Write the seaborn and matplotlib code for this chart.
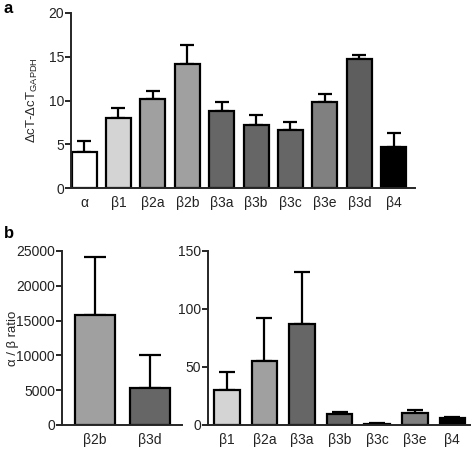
import numpy as np
import pandas as pd
import matplotlib
matplotlib.use("Agg")
import matplotlib.pyplot as plt
import seaborn as sns

# panel a: expression relative to GAPDH
a_labels = ["α", "β1", "β2a", "β2b", "β3a", "β3b", "β3c", "β3e", "β3d", "β4"]
a_means = [4.1, 8.0, 10.2, 14.2, 8.8, 7.2, 6.6, 9.8, 14.8, 4.7]
a_errs = [1.3, 1.1, 0.9, 2.1, 1.0, 1.1, 1.0, 0.9, 0.4, 1.6]
a_colors = ["#ffffff", "#d4d4d4", "#a0a0a0", "#a0a0a0", "#666666",
            "#666666", "#666666", "#808080", "#5e5e5e", "#000000"]

# panel b: alpha / beta ratio, large values
b1_labels = ["β2b", "β3d"]
b1_means = [15800, 5300]
b1_errs = [8400, 4750]
b1_colors = ["#a0a0a0", "#666666"]

# panel b: alpha / beta ratio, small values
b2_labels = ["β1", "β2a", "β3a", "β3b", "β3c", "β3e", "β4"]
b2_means = [30, 55, 87, 9.2, 1.0, 10.3, 5.7]
b2_errs = [16, 37, 45, 1.8, 0.4, 2.3, 1.1]
b2_colors = ["#d4d4d4", "#a0a0a0", "#666666", "#666666", "#666666", "#808080", "#000000"]

sns.set_style("ticks")
plt.rcParams["font.family"] = ["Liberation Sans", "DejaVu Sans"]
plt.rcParams["axes.linewidth"] = 1.4
plt.rcParams["text.color"] = "#222222"


def draw_bars(ax, labels, means, errs, colors, width, capsize, xlim, ylim, yticks):
    df = pd.DataFrame({"label": labels, "value": means})
    sns.barplot(data=df, x="label", y="value", hue="label", palette=colors,
                width=width, edgecolor="black", linewidth=1.6, legend=False,
                ax=ax, zorder=2)
    x = np.arange(len(labels))
    ax.errorbar(x, means, yerr=[np.zeros(len(errs)), errs], fmt="none",
                ecolor="black", elinewidth=1.6, capsize=capsize, capthick=1.6,
                zorder=1)
    ax.set_xlim(*xlim)
    ax.set_ylim(*ylim)
    ax.set_yticks(yticks)
    ax.set_xlabel("")
    ax.set_ylabel("")
    sns.despine(ax=ax)
    ax.tick_params(axis="x", length=0, labelsize=10, pad=6, labelcolor="#222222")
    ax.tick_params(axis="y", length=4, width=1.4, labelsize=10, pad=1, labelcolor="#222222")


fig = plt.figure(figsize=(4.72, 4.5), dpi=100)

ax_a = fig.add_axes([71 / 472, 1 - 188 / 450, 344 / 472, 175 / 450])
draw_bars(ax_a, a_labels, a_means, a_errs, a_colors, 0.73, 5,
          (-0.38, 9.62), (0, 20), [0, 5, 10, 15, 20])
ax_a.set_ylabel(r"ΔcT-ΔcT$_{\mathregular{GAPDH}}$", fontsize=9.5)
ax_a.yaxis.set_label_coords((40 - 71) / 344, 0.5)

ax_b1 = fig.add_axes([62 / 472, 1 - 425 / 450, 120 / 472, 174 / 450])
draw_bars(ax_b1, b1_labels, b1_means, b1_errs, b1_colors, 0.73, 8,
          (-0.6, 1.58), (0, 25000), [0, 5000, 10000, 15000, 20000, 25000])
ax_b1.set_ylabel("α / β ratio", fontsize=9.5)
ax_b1.yaxis.set_label_coords((19 - 62) / 120, 0.5)

ax_b2 = fig.add_axes([208 / 472, 1 - 425 / 450, 262 / 472, 174 / 450])
draw_bars(ax_b2, b2_labels, b2_means, b2_errs, b2_colors, 0.68, 5.5,
          (-0.5, 6.47), (0, 150), [0, 50, 100, 150])

fig.text(4 / 472, 1 - 1 / 450, "a", fontsize=12, fontweight="bold", va="top", color="black")
fig.text(4 / 472, 1 - 226 / 450, "b", fontsize=12, fontweight="bold", va="top", color="black")

fig.savefig("out.png", dpi=100)
